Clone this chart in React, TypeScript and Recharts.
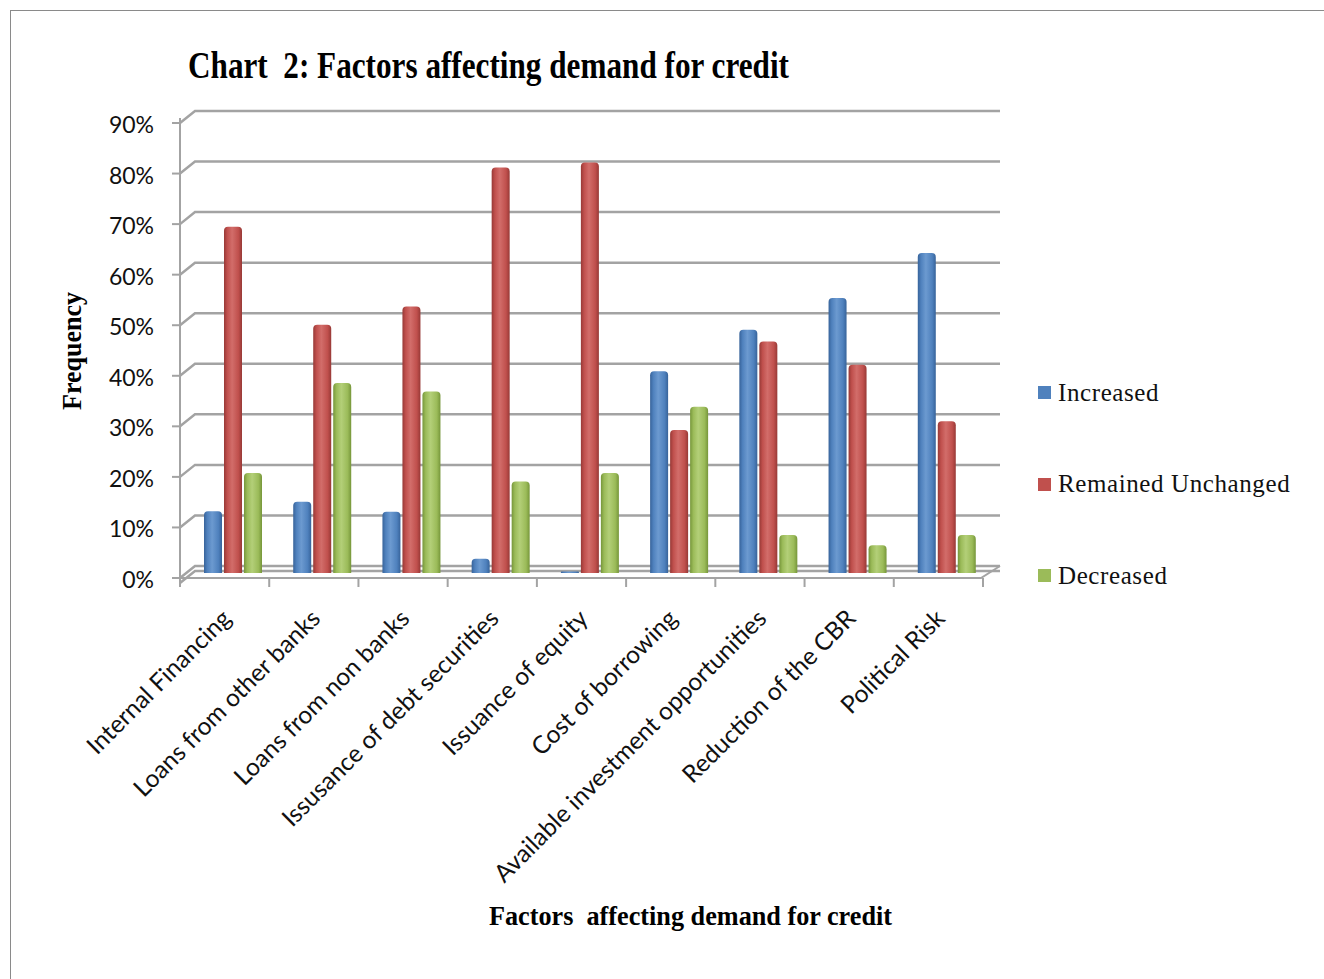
import React from "react";
import { Bar, BarChart, CartesianGrid, Legend, XAxis, YAxis } from "recharts";

const categories = [
  "Internal Financing",
  "Loans from other banks",
  "Loans from non banks",
  "Issusance of debt securities",
  "Issuance of equity",
  "Cost of borrowing",
  "Available investment opportunities",
  "Reduction of the CBR",
  "Political Risk",
];
const increased = [12.2, 14.1, 12.1, 2.8, 0.3, 39.9, 48.1, 54.4, 63.3];
const unchanged = [68.5, 49.1, 52.7, 80.2, 81.2, 28.3, 45.8, 41.2, 30.0];
const decreased = [19.8, 37.6, 35.9, 18.1, 19.8, 32.9, 7.5, 5.5, 7.5];
const yTicks = [0, 10, 20, 30, 40, 50, 60, 70, 80, 90];

const series = [
  { key: "increased", name: "Increased", color: "#4F81BD", dark: "#37639a", light: "#6c9ad0" },
  { key: "unchanged", name: "Remained Unchanged", color: "#C0504D", dark: "#973936", light: "#d26d6a" },
  { key: "decreased", name: "Decreased", color: "#9BBB59", dark: "#76963a", light: "#b3cf78" },
];

const data = categories.map((name, i) => ({
  name,
  increased: increased[i],
  unchanged: unchanged[i],
  decreased: decreased[i],
}));

// layout of the fake 3d box
const W = 1324;
const H = 979;
const PLOT_LEFT = 180;
const PLOT_RIGHT = 1000;
const PLOT_TOP = 118;
const PLOT_BOTTOM = 578;
const Y_PAD = 5;
const X_PAD_L = 8;
const X_PAD_R = 9;
const DEPTH_X = 15;
const DEPTH_UP = 7;
const FRONT_DOWN = 5;
const BAND = (PLOT_RIGHT - PLOT_LEFT - X_PAD_L - X_PAD_R) / categories.length;
const GRID = "#a3a3a3";
const SANS = "Lato, 'Open Sans', sans-serif";
const SERIF = "'Liberation Serif', 'DejaVu Serif', serif";

const GridLine = (props: any) => {
  const { x1, x2, y1 } = props;
  const back = y1 - DEPTH_UP;
  const front = y1 + FRONT_DOWN;
  const isFloor = Math.abs(y1 - (PLOT_BOTTOM - Y_PAD)) < 1;
  return (
    <g>
      <path
        d={`M${x1},${front} L${x1 + DEPTH_X},${back} L${x2},${back}`}
        stroke={GRID}
        strokeWidth={2.5}
        fill="none"
      />
      {isFloor && (
        <path
          d={`M${x1},${front} L${x2 - DEPTH_X - 4},${front} L${x2},${back}`}
          stroke={GRID}
          strokeWidth={2}
          fill="none"
        />
      )}
    </g>
  );
};

const YTick = (props: any) => {
  const { y, payload } = props;
  return (
    <g>
      <line x1={PLOT_LEFT - 8} x2={PLOT_LEFT} y1={y + FRONT_DOWN} y2={y + FRONT_DOWN} stroke={GRID} strokeWidth={2} />
      <text
        x={PLOT_LEFT - 26}
        y={y + 6}
        textAnchor="end"
        dominantBaseline="central"
        fontFamily={SANS}
        fontSize={23}
        fill="#111"
      >
        {payload.value}%
      </text>
    </g>
  );
};

const XTick = (props: any) => {
  const { x, payload, index } = props;
  const left = x - BAND / 2 - X_PAD_L;
  const ty = PLOT_BOTTOM + 42;
  return (
    <g>
      <line x1={left} x2={left} y1={PLOT_BOTTOM} y2={PLOT_BOTTOM + 9} stroke={GRID} strokeWidth={2} />
      {index === categories.length - 1 && (
        <line x1={left + BAND} x2={left + BAND} y1={PLOT_BOTTOM} y2={PLOT_BOTTOM + 9} stroke={GRID} strokeWidth={2} />
      )}
      <text
        x={x}
        y={ty}
        textAnchor="end"
        transform={`rotate(-45, ${x}, ${ty})`}
        fontFamily={SANS}
        fontSize={24.5}
        fill="#111"
      >
        {payload.value}
      </text>
    </g>
  );
};

const LegendBox = () => (
  <div style={{ fontFamily: SERIF, fontSize: 25, color: "#111" }}>
    {series.map((s) => (
      <div key={s.key} style={{ height: 91.5, display: "flex", alignItems: "center", letterSpacing: 0.6 }}>
        <span style={{ width: 13, height: 13, background: s.color, marginRight: 7, display: "inline-block" }} />
        <span>{s.name}</span>
      </div>
    ))}
  </div>
);

export default function App() {
  return (
    <div style={{ position: "absolute", left: 0, top: 0, width: W, height: H, overflow: "hidden", background: "#fff" }}>
      <div
        style={{
          position: "absolute",
          left: 10,
          top: 10,
          width: W + 100,
          height: H + 100,
          border: "1.5px solid #8a8a8a",
        }}
      />
      <svg width={W} height={H} style={{ position: "absolute", left: 0, top: 0 }}>
        <text x={188} y={78} fontFamily={SERIF} fontWeight="bold" fontSize={37} textLength={601} lengthAdjust="spacingAndGlyphs">
          {"Chart\u00a0 2: Factors affecting demand for credit"}
        </text>
        <text
          x={0}
          y={0}
          transform="translate(81, 351) rotate(-90)"
          textAnchor="middle"
          fontFamily={SERIF}
          fontWeight="bold"
          fontSize={27}
          textLength={118}
          lengthAdjust="spacingAndGlyphs"
        >
          Frequency
        </text>
        <text x={489} y={925} fontFamily={SERIF} fontWeight="bold" fontSize={27} textLength={403} lengthAdjust="spacingAndGlyphs">
          {"Factors\u00a0 affecting demand for credit"}
        </text>
      </svg>
      <div style={{ position: "absolute", left: 0, top: 0 }}>
        <BarChart
          width={W}
          height={H}
          data={data}
          margin={{ top: PLOT_TOP, left: PLOT_LEFT - 60, right: W - PLOT_RIGHT, bottom: H - PLOT_BOTTOM - 30 }}
          barSize={18}
          barGap={2}
        >
          <defs>
            {series.map((s) => (
              <linearGradient key={s.key} id={`grad-${s.key}`} x1="0" y1="0" x2="1" y2="0">
                <stop offset="0%" stopColor={s.dark} />
                <stop offset="18%" stopColor={s.color} />
                <stop offset="45%" stopColor={s.light} />
                <stop offset="80%" stopColor={s.color} />
                <stop offset="100%" stopColor={s.dark} />
              </linearGradient>
            ))}
          </defs>
          <CartesianGrid vertical={false} horizontal={(p: any) => <GridLine key={p.key} {...p} />} />
          <XAxis
            dataKey="name"
            height={30}
            interval={0}
            padding={{ left: X_PAD_L, right: X_PAD_R }}
            axisLine={false}
            tickLine={false}
            tick={<XTick />}
          />
          <YAxis
            width={60}
            domain={[0, 90]}
            ticks={yTicks}
            padding={{ top: 0, bottom: Y_PAD }}
            axisLine={{ stroke: GRID, strokeWidth: 2 }}
            tickLine={false}
            tick={<YTick />}
          />
          <Legend
            layout="vertical"
            align="center"
            verticalAlign="middle"
            content={<LegendBox />}
            wrapperStyle={{ left: 1038, top: 347, width: 280 }}
          />
          {series.map((s) => (
            <Bar
              key={s.key}
              dataKey={s.key}
              name={s.name}
              fill={`url(#grad-${s.key})`}
              radius={[4, 4, 0, 0]}
              isAnimationActive={false}
            />
          ))}
        </BarChart>
      </div>
    </div>
  );
}
